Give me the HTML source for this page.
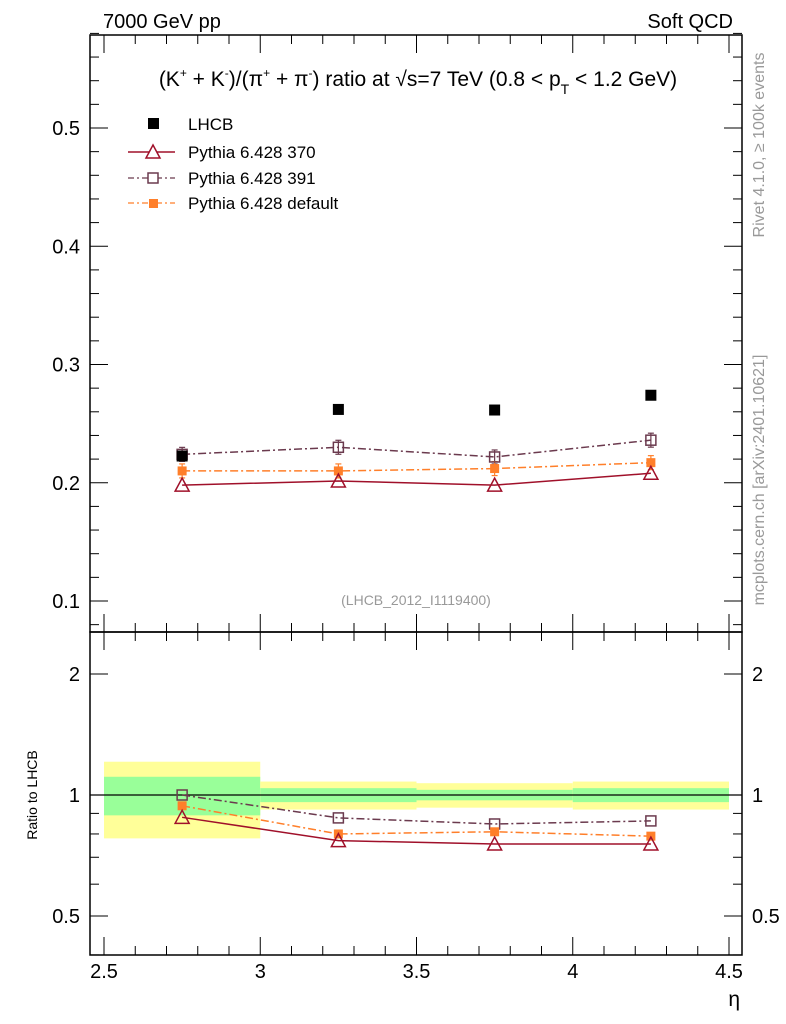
<!DOCTYPE html>
<html><head><meta charset="utf-8"><style>
body{margin:0;background:#fff;}
svg{display:block;font-family:"Liberation Sans",sans-serif;}
</style></head><body>
<svg id="c" width="786" height="1024" viewBox="0 0 786 1024"></svg>
<script>
const etaBins=[2.5,3.0,3.5,4.0,4.5];
const etaCenters=[2.75,3.25,3.75,4.25];
const lhcb=[0.2226,0.262,0.2615,0.274];
const py370=[0.198,0.2015,0.198,0.208];
const py391=[0.224,0.230,0.2218,0.236];
const pyDef=[0.210,0.210,0.212,0.217];
const r370=[0.88,0.77,0.755,0.755];
const r391=[1.0,0.877,0.847,0.862];
const rDef=[0.94,0.80,0.81,0.79];
const bandYellowUp=[0.21,0.08,0.07,0.08];
const bandYellowDn=[0.22,0.08,0.07,0.08];
const bandGreenUp=[0.11,0.04,0.03,0.04];
const bandGreenDn=[0.11,0.04,0.03,0.04];
const mainTicks=[0.1,0.2,0.3,0.4,0.5];
const ratioTicks=[0.5,1,2];
const xTicks=[2.5,3,3.5,4,4.5];

const NS="http://www.w3.org/2000/svg";
const svg=document.getElementById('c');
const L=90,R=742,T=35,MB=632,RB=955;
const X=v=>104+(v-2.5)*312.5;
const Y=v=>601-(v-0.1)*1182.5;
const YR=v=>795-121*Math.log2(v);
function mk(tag,attrs,parent){const e=document.createElementNS(NS,tag);for(const k in attrs)e.setAttribute(k,attrs[k]);(parent||svg).appendChild(e);return e;}
function txt(s,x,y,size,anchor,fill,parent){const t=mk('text',{x:x,y:y,'font-size':size,'text-anchor':anchor||'start',fill:fill||'#000'},parent);t.textContent=s;return t;}

const bands=mk('g',{});


for(let i=0;i<4;i++){
  const x0=X(etaBins[i]),x1=X(etaBins[i+1]);
  const y=mk('rect',{x:x0,y:YR(1+bandYellowUp[i]),width:x1-x0,height:YR(1-bandYellowDn[i])-YR(1+bandYellowUp[i]),fill:'#ffff99'},bands);
  
  
  const g=mk('rect',{x:x0,y:YR(1+bandGreenUp[i]),width:x1-x0,height:YR(1-bandGreenDn[i])-YR(1+bandGreenUp[i]),fill:'#99ff99'},bands);
  
  
}
mk('line',{x1:L,x2:R,y1:YR(1),y2:YR(1),stroke:'#000','stroke-width':1.2});

const fr=mk('g',{fill:'none',stroke:'#000','stroke-width':1.5});


mk('rect',{x:L,y:T,width:R-L,height:MB-T},fr);
mk('rect',{x:L,y:MB,width:R-L,height:RB-MB},fr);

const tk=mk('g',{stroke:'#000','stroke-width':1});
for(let v=0.08;v<=0.581;v+=0.02){const big=Math.abs(v*10-Math.round(v*10))<1e-6;const y=Y(v);const l=big?18:9;
  mk('line',{x1:L,x2:L+l,y1:y,y2:y},tk);mk('line',{x1:R,x2:R-l,y1:y,y2:y},tk);}
[0.4,0.5,0.6,0.7,0.8,0.9,1,2].forEach(v=>{const y=YR(v);const big=ratioTicks.includes(v);const l=big?18:9;
  mk('line',{x1:L,x2:L+l,y1:y,y2:y},tk);mk('line',{x1:R,x2:R-l,y1:y,y2:y},tk);});
for(let v=2.5;v<=4.501;v+=0.1){const big=Math.abs(v*2-Math.round(v*2))<1e-6;const x=X(v);const l=big?18:9;
  mk('line',{x1:x,x2:x,y1:MB,y2:MB-l},tk);mk('line',{x1:x,x2:x,y1:T,y2:T+l},tk);
  mk('line',{x1:x,x2:x,y1:RB,y2:RB-l},tk);mk('line',{x1:x,x2:x,y1:MB,y2:MB+l},tk);}

mainTicks.forEach(v=>{const t=txt(v.toFixed(1),80,Y(v)+7,20,'end');});
ratioTicks.forEach(v=>{const s=String(v);const a=txt(s,80,YR(v)+7,20,'end');
  const b=txt(s,752,YR(v)+7,20,'start');});
xTicks.forEach(v=>{const t=txt(String(v),X(v),978,20,'middle');});

function line(xs,ys,fy,color,dash,name){const p=mk('polyline',{points:xs.map((x,i)=>X(x)+','+fy(ys[i])).join(' '),fill:'none',stroke:color,'stroke-width':1.5,'stroke-dasharray':dash||'none'});
  }
function marker(type,x,y,color){
  if(type==='sqf')mk('rect',{x:x-5.5,y:y-5.5,width:11,height:11,fill:'#000'});
  else if(type==='sqo')mk('rect',{x:x-5,y:y-5,width:10,height:10,fill:'none',stroke:color,'stroke-width':1.5});
  else if(type==='sqs')mk('rect',{x:x-4.5,y:y-4.5,width:9,height:9,fill:color});
  else if(type==='tri')mk('polygon',{points:`${x},${y-7} ${x-7},${y+6} ${x+7},${y+6}`,fill:'none',stroke:color,'stroke-width':1.5});
}
function ebar(x,y,h,color){mk('line',{x1:x,x2:x,y1:y-h,y2:y+h,stroke:color,'stroke-width':1.2});mk('line',{x1:x-3,x2:x+3,y1:y-h,y2:y-h,stroke:color,'stroke-width':1.2});mk('line',{x1:x-3,x2:x+3,y1:y+h,y2:y+h,stroke:color,'stroke-width':1.2});}
const cDef='#ff7f2a',c391='#6b3a4e',c370='#a0102a';
const DD='8,3,2,3';
line(etaCenters,py391,Y,c391,DD,'series-391-line');
line(etaCenters,pyDef,Y,cDef,DD,'series-default-line');
line(etaCenters,py370,Y,c370,null,'series-370-line');
line(etaCenters,r391,YR,c391,DD,'ratio-391-line');
line(etaCenters,rDef,YR,cDef,DD,'ratio-default-line');
line(etaCenters,r370,YR,c370,null,'ratio-370-line');
etaCenters.forEach((x,i)=>{
  ebar(X(x),Y(py391[i]),7,c391);ebar(X(x),Y(pyDef[i]),7,cDef);
  marker('sqo',X(x),Y(py391[i]),c391);marker('sqs',X(x),Y(pyDef[i]),cDef);marker('tri',X(x),Y(py370[i]),c370);marker('sqf',X(x),Y(lhcb[i]));
  marker('sqo',X(x),YR(r391[i]),c391);marker('sqs',X(x),YR(rDef[i]),cDef);marker('tri',X(x),YR(r370[i]),c370);
});

const lg=mk('g',{});


mk('rect',{x:148,y:118,width:11,height:11,fill:'#000'},lg);txt('LHCB',188,130,17,'start','#000',lg);
mk('line',{x1:128,x2:175,y1:152,y2:152,stroke:c370,'stroke-width':1.5},lg);mk('polygon',{points:'153,145 146,158 160,158',fill:'#fff',stroke:c370,'stroke-width':1.5},lg);txt('Pythia 6.428 370',188,158,17,'start','#000',lg);
mk('line',{x1:128,x2:175,y1:178,y2:178,stroke:c391,'stroke-width':1.2,'stroke-dasharray':'6,3,2,3'},lg);mk('rect',{x:148,y:173,width:10,height:10,fill:'#fff',stroke:c391,'stroke-width':1.5},lg);txt('Pythia 6.428 391',188,184,17,'start','#000',lg);
mk('line',{x1:128,x2:175,y1:203,y2:203,stroke:cDef,'stroke-width':1.2,'stroke-dasharray':'6,3,2,3'},lg);mk('rect',{x:149,y:199,width:9,height:9,fill:cDef},lg);txt('Pythia 6.428 default',188,209,17,'start','#000',lg);

let t=txt('7000 GeV pp',103,28,20);
t=txt('Soft QCD',733,28,20,'end');
t=mk('text',{x:418,y:86,'font-size':21,'text-anchor':'middle'});
t.innerHTML='(K<tspan font-size="12" dy="-9">+</tspan><tspan dy="9"> + K</tspan><tspan font-size="12" dy="-9">-</tspan><tspan dy="9">)/(π</tspan><tspan font-size="12" dy="-9">+</tspan><tspan dy="9"> + π</tspan><tspan font-size="12" dy="-9">-</tspan><tspan dy="9">) ratio at √s=7 TeV (0.8 &lt; p</tspan><tspan font-size="14" dy="8">T</tspan><tspan dy="-8"> &lt; 1.2 GeV)</tspan>';

t=txt('(LHCB_2012_I1119400)',416,605,14,'middle','#999');
t=txt('Ratio to LHCB',0,0,14,'middle');t.setAttribute('transform','translate(37,795) rotate(-90)');
t=txt('η',740,1006,21,'end');
t=txt('Rivet 4.1.0, ≥ 100k events',0,0,16,'middle','#999');t.setAttribute('transform','translate(764,145) rotate(-90)');
t=txt('mcplots.cern.ch [arXiv:2401.10621]',0,0,16,'middle','#999');t.setAttribute('transform','translate(764,480) rotate(-90)');
</script>
</body></html>
